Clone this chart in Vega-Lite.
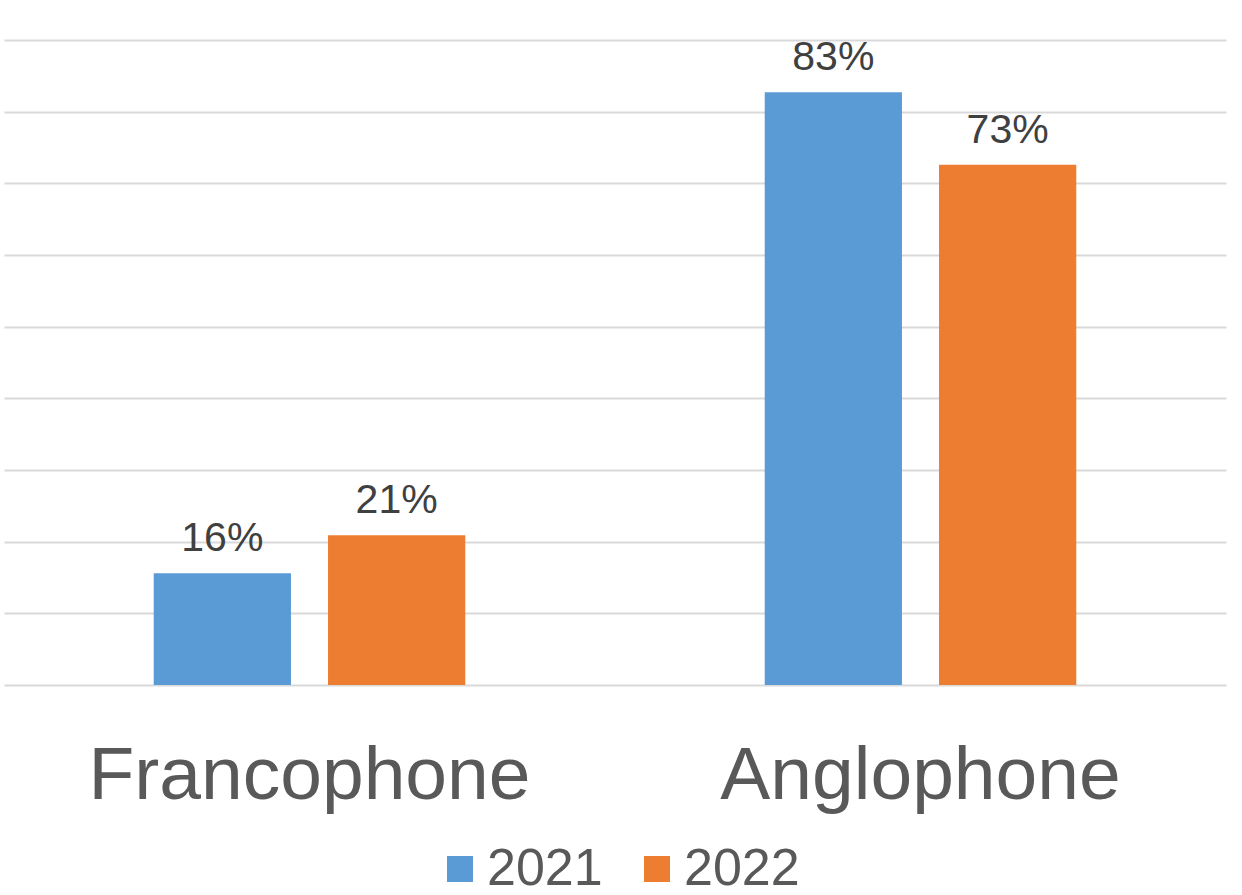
{
  "$schema": "https://vega.github.io/schema/vega-lite/v6.json",
  "width": 1222,
  "height": 645,
  "padding": {"left": 4, "top": 37, "right": 16, "bottom": 0},
  "config": {
    "font": "Liberation Sans",
    "view": {"stroke": null}
  },
  "data": {
    "values": [
      {"group": "Francophone", "year": "2021", "value": 0.156},
      {"group": "Francophone", "year": "2022", "value": 0.209},
      {"group": "Anglophone", "year": "2021", "value": 0.827},
      {"group": "Anglophone", "year": "2022", "value": 0.726}
    ]
  },
  "encoding": {
    "x": {
      "field": "group",
      "type": "nominal",
      "sort": ["Francophone", "Anglophone"],
      "scale": {"paddingInner": 0, "paddingOuter": 0},
      "axis": {
        "title": null,
        "domain": false,
        "ticks": false,
        "labelAngle": 0,
        "labelFontSize": 75,
        "labelLimit": 0,
        "labelColor": "#595959",
        "labelBaseline": "alphabetic",
        "labelPadding": 113
      }
    },
    "xOffset": {
      "field": "year",
      "type": "nominal",
      "scale": {"paddingInner": 0.2126, "paddingOuter": 0.859}
    },
    "y": {
      "field": "value",
      "type": "quantitative",
      "scale": {"domain": [0, 0.9], "nice": false},
      "axis": {
        "title": null,
        "labels": false,
        "ticks": false,
        "domain": false,
        "values": [0, 0.1, 0.2, 0.3, 0.4, 0.5, 0.6, 0.7, 0.8, 0.9],
        "gridColor": "#D9D9D9",
        "gridWidth": 2
      }
    }
  },
  "layer": [
    {
      "mark": {"type": "bar"},
      "encoding": {
        "color": {
          "field": "year",
          "type": "nominal",
          "scale": {"domain": ["2021", "2022"], "range": ["#5B9BD5", "#ED7D31"]},
          "legend": {
            "title": null,
            "orient": "none",
            "direction": "horizontal",
            "legendX": 430,
            "legendY": 803,
            "padding": 0,
            "symbolType": "square",
            "symbolSize": 676,
            "symbolStrokeWidth": 0,
            "labelFontSize": 52,
            "labelLimit": 0,
            "labelColor": "#595959",
            "labelOffset": 1,
            "columnPadding": 28
          }
        }
      }
    },
    {
      "mark": {"type": "text", "baseline": "alphabetic", "dy": -22, "fontSize": 41, "color": "#404040"},
      "encoding": {
        "text": {"field": "value", "type": "quantitative", "format": ".0%"}
      }
    }
  ]
}
